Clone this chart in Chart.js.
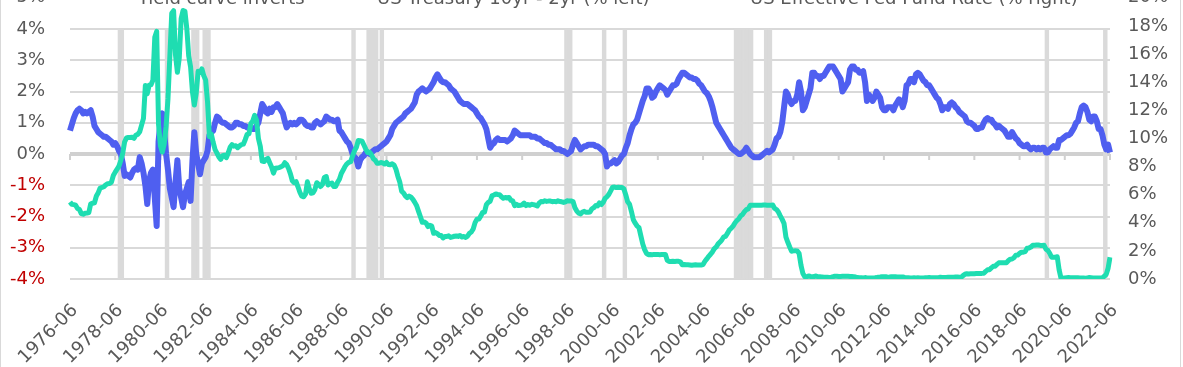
<!DOCTYPE html>
<html lang="en">
<head>
<meta charset="UTF-8" />
<title>Yield curve vs Fed funds rate</title>
<style>
  html, body { margin: 0; padding: 0; background: #fff; }
  body { width: 1183px; height: 367px; overflow: hidden; position: relative; font-family: 'DejaVu Sans', Verdana, sans-serif; }
  #wrap { position: absolute; left: 0; top: -38px; width: 1183px; height: 417px; }
  .legend { position: absolute; left: 0; top: -13px; width: 1183px; height: 21px; font-size: 18px; line-height: 21px; color: #595959; white-space: nowrap; }
  .legend .item { position: absolute; top: 0; }
  .legend .sw { position: absolute; height: 5px; }
  .edge { position: absolute; top: 0; width: 1px; height: 367px; background: #d9d9d9; }
</style>
</head>
<body>
  <div id="wrap"><canvas id="myChart"></canvas></div>
  <div class="legend">
    <span class="item" style="left:138px"><span class="sw" style="left:-20px;width:12px;top:-4px;height:12px;background:#d9d9d9"></span>Yield curve inverts</span>
    <span class="item" style="left:377px"><span class="sw" style="left:-50px;width:42px;top:6px;background:#4f5ff0"></span>US Treasury 10yr - 2yr (% left)</span>
    <span class="item" style="left:750px"><span class="sw" style="left:-50px;width:42px;top:8px;background:#1fddb1"></span>US Effective Fed Fund Rate (% right)</span>
  </div>
  <div class="edge" style="left:0"></div>
  <div class="edge" style="left:1180px"></div>

  <script src="https://cdn.jsdelivr.net/npm/chart.js"></script>
  <script>
    // monthly, first point 1976-06, last 2022-06
    const START_YEAR = 1976;
    const START_MONTH = 6;
    const LABEL_EVERY = 24;

    // US Treasury 10yr - 2yr spread (%)
    const spread = [
      0.75, 0.95, 1.15, 1.3, 1.4, 1.45, 1.4,                          // 1976 (Jun-Dec)
      1.3, 1.35, 1.3, 1.35, 1.4, 1.2, 0.9, 0.8, 0.7, 0.65, 0.6, 0.55,  // 1977
      0.55, 0.5, 0.45, 0.4, 0.3, 0.35, 0.25, 0.1, 0.0, -0.3, -0.7, -0.65,
      -0.7, -0.75, -0.6, -0.5, -0.45, -0.5, -0.1, -0.3, -0.6, -1.0, -1.6, -0.85,
      -0.6, -0.5, -1.4, -2.3, 0.4, 1.0, 1.3, 0.7, 0.0, -0.5, -1.1, -1.4,   // 1980
      -1.7, -0.9, -0.2, -1.1, -1.4, -1.7, -1.3, -1.1, -0.9, -1.5, -0.2, 0.7,
      0.0, -0.3, -0.65, -0.3, -0.2, -0.1, 0.1, 0.6, 0.7, 0.75, 1.0, 1.2,
      1.15, 1.05, 1.0, 1.0, 0.95, 0.9, 0.85, 0.85, 0.9, 1.0, 1.0, 0.95,
      0.95, 0.9, 0.9, 0.85, 0.85, 0.85, 0.8, 0.8, 0.9, 1.0, 1.3, 1.6,
      1.5, 1.35, 1.3, 1.45, 1.35, 1.5, 1.5, 1.6, 1.5, 1.4, 1.3, 1.05,     // 1985
      0.85, 0.95, 1.0, 0.95, 1.0, 0.95, 1.0, 1.1, 1.1, 1.05, 0.95, 0.9,
      0.9, 0.85, 0.85, 1.0, 1.05, 1.0, 0.95, 1.0, 1.05, 1.2, 1.15, 1.1,
      1.1, 1.05, 1.05, 1.1, 0.75, 0.7, 0.6, 0.5, 0.4, 0.35, 0.2, 0.0,
      -0.1, -0.15, -0.4, -0.2, -0.1, -0.05, 0.05, 0.05, 0.0, 0.05, 0.1, 0.15,
      0.15, 0.2, 0.25, 0.3, 0.35, 0.4, 0.5, 0.6, 0.8, 0.9, 1.0, 1.05,     // 1990
      1.1, 1.15, 1.2, 1.3, 1.35, 1.4, 1.45, 1.55, 1.65, 1.9, 2.0, 2.05,
      2.1, 2.05, 2.0, 2.05, 2.1, 2.2, 2.3, 2.45, 2.55, 2.45, 2.35, 2.3,
      2.3, 2.25, 2.2, 2.1, 2.05, 2.0, 1.9, 1.8, 1.7, 1.65, 1.6, 1.6,
      1.6, 1.55, 1.5, 1.45, 1.4, 1.3, 1.2, 1.15, 1.05, 0.95, 0.8, 0.5,
      0.2, 0.3, 0.35, 0.45, 0.5, 0.45, 0.45, 0.45, 0.45, 0.4, 0.45, 0.5,  // 1995
      0.6, 0.75, 0.7, 0.65, 0.6, 0.6, 0.6, 0.6, 0.6, 0.6, 0.55, 0.55,
      0.55, 0.5, 0.5, 0.45, 0.4, 0.35, 0.35, 0.3, 0.3, 0.25, 0.2, 0.15,
      0.15, 0.15, 0.1, 0.1, 0.05, 0.0, 0.05, 0.1, 0.3, 0.45, 0.35, 0.25,
      0.15, 0.2, 0.25, 0.25, 0.3, 0.3, 0.3, 0.3, 0.25, 0.25, 0.2, 0.15,
      0.1, 0.0, -0.4, -0.3, -0.3, -0.25, -0.2, -0.3, -0.25, -0.15, -0.05, 0.0,  // 2000
      0.2, 0.35, 0.6, 0.8, 0.95, 1.0, 1.1, 1.3, 1.5, 1.7, 1.85, 2.1,
      2.1, 2.0, 1.8, 1.85, 2.0, 2.1, 2.2, 2.15, 2.1, 2.05, 1.9, 2.0,
      2.1, 2.2, 2.2, 2.25, 2.4, 2.5, 2.6, 2.6, 2.55, 2.5, 2.45, 2.45,
      2.4, 2.4, 2.35, 2.25, 2.2, 2.1, 2.0, 1.95, 1.85, 1.7, 1.5, 1.25,
      1.0, 0.9, 0.8, 0.7, 0.6, 0.5, 0.4, 0.3, 0.2, 0.15, 0.1, 0.05,       // 2005
      0.0, 0.0, 0.05, 0.1, 0.2, 0.1, 0.0, -0.05, -0.1, -0.1, -0.1, -0.1,
      -0.05, 0.0, 0.05, 0.1, 0.05, 0.1, 0.15, 0.3, 0.5, 0.55, 0.7, 1.0,
      1.5, 2.0, 1.9, 1.7, 1.6, 1.7, 1.7, 1.9, 2.3, 2.0, 1.4, 1.5,
      1.7, 1.9, 2.1, 2.6, 2.6, 2.5, 2.5, 2.4, 2.5, 2.5, 2.6, 2.7,
      2.8, 2.8, 2.8, 2.7, 2.6, 2.5, 2.4, 2.0, 2.1, 2.2, 2.3, 2.7,         // 2010
      2.8, 2.8, 2.7, 2.7, 2.6, 2.6, 2.65, 2.3, 1.7, 1.9, 1.8, 1.7,
      1.8, 2.0, 1.9, 1.8, 1.5, 1.4, 1.4, 1.5, 1.5, 1.5, 1.4, 1.55,
      1.65, 1.75, 1.7, 1.5, 1.7, 2.2, 2.25, 2.4, 2.4, 2.3, 2.55, 2.6,
      2.55, 2.45, 2.35, 2.3, 2.2, 2.2, 2.1, 2.0, 1.9, 1.8, 1.75, 1.6,
      1.4, 1.5, 1.5, 1.45, 1.6, 1.65, 1.6, 1.5, 1.45, 1.35, 1.3, 1.25,    // 2015
      1.2, 1.05, 1.0, 1.0, 0.95, 0.9, 0.8, 0.8, 0.85, 0.85, 1.0, 1.1,
      1.15, 1.1, 1.1, 1.0, 0.95, 0.85, 0.9, 0.85, 0.8, 0.75, 0.65, 0.55,
      0.55, 0.7, 0.6, 0.5, 0.45, 0.35, 0.3, 0.25, 0.25, 0.3, 0.2, 0.15,
      0.2, 0.2, 0.15, 0.2, 0.15, 0.2, 0.2, 0.05, 0.05, 0.15, 0.2, 0.25,
      0.2, 0.2, 0.45, 0.45, 0.5, 0.55, 0.6, 0.6, 0.65, 0.75, 0.85, 1.0,   // 2020
      1.05, 1.3, 1.5, 1.55, 1.5, 1.35, 1.1, 1.05, 1.2, 1.2, 1.05, 0.8,
      0.8, 0.6, 0.3, 0.15, 0.3, 0.05                                   // 2022 (Jan-Jun)
    ];

    // US effective fed funds rate (%)
    const fedFunds = [
      5.48, 5.31, 5.29, 5.25, 5.02, 4.95, 4.65,                        // 1976 (Jun-Dec)
      4.61, 4.68, 4.69, 4.73, 5.35, 5.39, 5.42, 5.90, 6.14, 6.47, 6.51, 6.56,
      6.70, 6.78, 6.79, 6.89, 7.36, 7.60, 7.81, 8.04, 8.45, 8.96, 9.76, 10.03,
      10.07, 10.06, 10.09, 10.01, 10.24, 10.29, 10.47, 10.94, 11.43, 13.77, 13.18, 13.78,
      13.82, 14.13, 17.19, 17.61, 10.98, 9.47, 9.03, 9.61, 10.87, 12.81, 15.85, 18.90,  // 1980
      19.08, 15.93, 14.70, 15.72, 18.52, 19.10, 19.04, 17.82, 15.87, 15.08, 13.31, 12.37,
      13.22, 14.78, 14.68, 14.94, 14.45, 14.15, 12.59, 10.12, 10.31, 9.71, 9.20, 8.95,
      8.68, 8.51, 8.77, 8.80, 8.63, 8.98, 9.37, 9.56, 9.45, 9.48, 9.34, 9.47,
      9.56, 9.59, 9.91, 10.29, 10.32, 11.06, 11.23, 11.64, 11.30, 9.99, 9.43, 8.38,
      8.35, 8.50, 8.58, 8.27, 7.97, 7.53, 7.88, 7.90, 7.92, 7.99, 8.05, 8.27,  // 1985
      8.14, 7.86, 7.48, 6.99, 6.85, 6.92, 6.56, 6.17, 5.89, 5.85, 6.04, 6.91,
      6.43, 6.10, 6.13, 6.37, 6.85, 6.73, 6.58, 6.73, 7.22, 7.29, 6.69, 6.77,
      6.83, 6.58, 6.58, 6.87, 7.09, 7.51, 7.75, 8.01, 8.19, 8.30, 8.35, 8.76,
      9.12, 9.36, 9.85, 9.84, 9.81, 9.53, 9.24, 8.99, 9.02, 8.84, 8.55, 8.45,
      8.23, 8.24, 8.28, 8.26, 8.18, 8.29, 8.15, 8.13, 8.20, 8.11, 7.81, 7.31,  // 1990
      6.91, 6.25, 6.12, 5.91, 5.78, 5.90, 5.82, 5.66, 5.45, 5.21, 4.81, 4.43,
      4.03, 4.06, 3.98, 3.73, 3.82, 3.76, 3.25, 3.30, 3.22, 3.10, 3.09, 2.92,
      3.02, 3.03, 3.07, 2.96, 3.00, 3.04, 3.06, 3.03, 3.09, 2.99, 3.02, 2.96,
      3.05, 3.25, 3.34, 3.56, 4.01, 4.25, 4.26, 4.47, 4.73, 4.76, 5.29, 5.45,
      5.53, 5.92, 5.98, 6.05, 6.01, 6.00, 5.85, 5.74, 5.80, 5.76, 5.80, 5.60,  // 1995
      5.56, 5.22, 5.31, 5.22, 5.24, 5.27, 5.40, 5.22, 5.30, 5.24, 5.31, 5.29,
      5.25, 5.19, 5.39, 5.51, 5.50, 5.56, 5.52, 5.54, 5.54, 5.50, 5.52, 5.50,
      5.56, 5.51, 5.49, 5.45, 5.49, 5.56, 5.54, 5.55, 5.51, 5.07, 4.83, 4.68,
      4.63, 4.76, 4.81, 4.74, 4.74, 4.76, 4.99, 5.07, 5.22, 5.20, 5.42, 5.30,
      5.45, 5.73, 5.85, 6.02, 6.27, 6.53, 6.54, 6.50, 6.52, 6.51, 6.51, 6.40,  // 2000
      5.98, 5.49, 5.31, 4.80, 4.21, 3.97, 3.77, 3.65, 3.07, 2.49, 2.09, 1.82,
      1.73, 1.74, 1.73, 1.75, 1.75, 1.75, 1.73, 1.74, 1.75, 1.75, 1.34, 1.24,
      1.24, 1.26, 1.25, 1.26, 1.26, 1.22, 1.01, 1.03, 1.01, 1.01, 1.00, 0.98,
      1.00, 1.01, 1.00, 1.00, 1.00, 1.03, 1.26, 1.43, 1.61, 1.76, 1.93, 2.16,
      2.28, 2.50, 2.63, 2.79, 3.00, 3.04, 3.26, 3.50, 3.62, 3.78, 4.00, 4.16,  // 2005
      4.29, 4.49, 4.59, 4.79, 4.94, 4.99, 5.24, 5.25, 5.25, 5.25, 5.25, 5.24,
      5.25, 5.26, 5.26, 5.25, 5.25, 5.25, 5.26, 5.02, 4.94, 4.76, 4.49, 4.24,
      3.94, 2.98, 2.61, 2.28, 1.98, 2.00, 2.01, 2.00, 1.81, 0.97, 0.39, 0.16,
      0.15, 0.22, 0.18, 0.15, 0.18, 0.21, 0.16, 0.16, 0.15, 0.12, 0.12, 0.12,
      0.11, 0.13, 0.16, 0.20, 0.20, 0.18, 0.18, 0.19, 0.19, 0.19, 0.19, 0.18,  // 2010
      0.17, 0.16, 0.14, 0.10, 0.09, 0.09, 0.07, 0.10, 0.08, 0.07, 0.08, 0.07,
      0.08, 0.10, 0.13, 0.14, 0.16, 0.16, 0.16, 0.13, 0.14, 0.16, 0.16, 0.16,
      0.14, 0.15, 0.14, 0.15, 0.11, 0.09, 0.09, 0.08, 0.08, 0.09, 0.08, 0.09,
      0.07, 0.07, 0.08, 0.09, 0.09, 0.10, 0.09, 0.09, 0.09, 0.09, 0.09, 0.12,
      0.11, 0.11, 0.11, 0.12, 0.12, 0.13, 0.13, 0.14, 0.14, 0.12, 0.12, 0.24,  // 2015
      0.34, 0.38, 0.36, 0.37, 0.37, 0.38, 0.39, 0.40, 0.40, 0.40, 0.41, 0.54,
      0.65, 0.66, 0.79, 0.90, 0.91, 1.04, 1.15, 1.16, 1.15, 1.15, 1.16, 1.30,
      1.41, 1.42, 1.51, 1.69, 1.70, 1.82, 1.91, 1.91, 1.95, 2.19, 2.20, 2.27,
      2.40, 2.40, 2.41, 2.42, 2.39, 2.38, 2.40, 2.13, 2.04, 1.83, 1.55, 1.55,
      1.55, 1.58, 0.65, 0.05, 0.05, 0.08, 0.09, 0.10, 0.09, 0.09, 0.09, 0.09,  // 2020
      0.09, 0.08, 0.07, 0.07, 0.06, 0.08, 0.10, 0.09, 0.08, 0.08, 0.08, 0.08,
      0.08, 0.08, 0.20, 0.33, 0.77, 1.55                                // 2022 (Jan-Jun)
    ];

    // months shaded as "yield curve inverts" (first, last)
    const inversionPeriods = [
      ['1978-08', '1978-10'], ['1980-09', '1980-10'], ['1981-11', '1982-02'],
      ['1982-05', '1982-08'], ['1988-12', '1989-01'], ['1989-08', '1990-01'],
      ['1990-03', '1990-04'], ['1998-05', '1998-08'], ['2000-01', '2000-02'],
      ['2000-12', '2001-01'], ['2005-11', '2006-08'], ['2007-03', '2007-06'],
      ['2019-08', '2019-09'], ['2022-03', '2022-04']
    ];

    const months = [];
    for (let i = 0; i < spread.length; i++) {
      const t = START_MONTH - 1 + i;
      months.push((START_YEAR + Math.floor(t / 12)) + '-' + String(t % 12 + 1).padStart(2, '0'));
    }
    const inverted = months.map(m => inversionPeriods.some(p => m >= p[0] && m <= p[1]) ? [-4, 4] : null);

    const FONT = { family: "'DejaVu Sans', Verdana, sans-serif", size: 18 };
    const GREY = '#595959';

    // little tick marks hanging from the 0% line, one per x label
    const zeroTicks = {
      id: 'zeroTicks',
      beforeDatasetsDraw(chart) {
        const { ctx, scales: { x, y } } = chart;
        const y0 = y.getPixelForValue(0);
        ctx.save();
        ctx.strokeStyle = '#d0d0d0';
        ctx.lineWidth = 2;
        for (let i = 0; i < months.length; i += LABEL_EVERY) {
          const px = x.getPixelForValue(i);
          ctx.beginPath();
          ctx.moveTo(px, y0);
          ctx.lineTo(px, y0 + 6);
          ctx.stroke();
        }
        ctx.restore();
      }
    };

    new Chart(document.getElementById('myChart'), {
      type: 'line',
      data: {
        labels: months,
        datasets: [
          {
            type: 'bar',
            label: 'Yield curve inverts',
            data: inverted,
            yAxisID: 'y',
            backgroundColor: '#dadada',
            borderWidth: 0,
            barPercentage: 1,
            categoryPercentage: 1,
            order: 3
          },
          {
            label: 'US Treasury 10yr - 2yr (% left)',
            data: spread,
            yAxisID: 'y',
            borderColor: '#4f5ff0',
            borderWidth: 6,
            pointRadius: 0,
            tension: 0,
            borderJoinStyle: 'round',
            order: 2
          },
          {
            label: 'US Effective Fed Fund Rate (% right)',
            data: fedFunds,
            yAxisID: 'y2',
            borderColor: '#1fddb1',
            borderWidth: 5,
            pointRadius: 0,
            tension: 0,
            borderJoinStyle: 'round',
            order: 1
          }
        ]
      },
      options: {
        responsive: true,
        maintainAspectRatio: false,
        animation: false,
        layout: { padding: 0 },
        plugins: {
          legend: { display: false },
          tooltip: { enabled: false }
        },
        scales: {
          x: {
            type: 'category',
            offset: false,
            grid: { display: false, drawTicks: false },
            border: { display: false },
            ticks: {
              autoSkip: false,
              minRotation: 45,
              maxRotation: 45,
              padding: 21,
              labelOffset: 5,
              color: GREY,
              font: FONT,
              callback: (v, i) => (i % LABEL_EVERY === 0 ? months[i] : null)
            },
            // fixed height; the rotated labels may hang past the plot edges
            afterFit: s => { s.height = 100; s.paddingLeft = 0; s.paddingRight = 0; }
          },
          y: {
            position: 'left',
            min: -4,
            max: 5,
            ticks: {
              stepSize: 1,
              padding: 25,
              font: FONT,
              color: c => (c.tick && c.tick.value < 0 ? '#c00000' : GREY),
              callback: v => v + '%'
            },
            grid: {
              drawTicks: false,
              color: c => (c.tick && c.tick.value === 0 ? '#d0d0d0' : '#d9d9d9'),
              lineWidth: c => (c.tick && c.tick.value === 0 ? 4 : 2)
            },
            border: { display: false },
            afterFit: s => { s.width = 70; }
          },
          y2: {
            position: 'right',
            min: 0,
            max: 20,
            ticks: {
              stepSize: 2,
              padding: 18,
              font: FONT,
              color: GREY,
              callback: v => v + '%'
            },
            grid: { display: false, drawTicks: false },
            border: { display: false },
            afterFit: s => { s.width = 73; }
          }
        }
      },
      plugins: [zeroTicks]
    });
  </script>
</body>
</html>
